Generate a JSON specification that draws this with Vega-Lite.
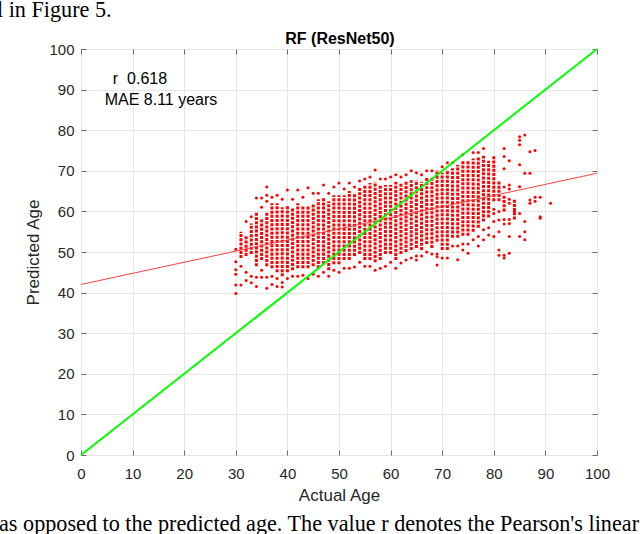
{
  "$schema": "https://vega.github.io/schema/vega-lite/v6.json",
  "width": 516,
  "height": 406,
  "autosize": "none",
  "padding": {"left": 81, "top": 49, "right": 43, "bottom": 79},
  "background": "white",
  "config": {
    "view": {"stroke": "#6b6b6b", "strokeWidth": 1},
    "axis": {"labelFont": "Liberation Sans", "titleFont": "Liberation Sans", "labelColor": "#262626", "titleColor": "#262626", "labelFontSize": 15, "titleFontSize": 17, "titleFontWeight": "normal", "tickColor": "#6b6b6b", "gridColor": "#e6e6e6", "domain": false, "labelFlush": false}
  },
  "resolve": {"axis": {"x": "independent", "y": "independent"}},
  "datasets": {
    "cores": [
      {"a": 31, "lo": 48.5, "hi": 55}, {"a": 32, "lo": 49, "hi": 54}, {"a": 33, "lo": 49.5, "hi": 57}, {"a": 34, "lo": 46.5, "hi": 60},
      {"a": 35, "lo": 48, "hi": 58}, {"a": 36, "lo": 46.5, "hi": 60}, {"a": 37, "lo": 46, "hi": 62}, {"a": 38, "lo": 45, "hi": 62},
      {"a": 39, "lo": 44, "hi": 61}, {"a": 40, "lo": 45, "hi": 61.5}, {"a": 41, "lo": 45.5, "hi": 61}, {"a": 42, "lo": 46, "hi": 62},
      {"a": 43, "lo": 46, "hi": 61.5}, {"a": 44, "lo": 46, "hi": 61.5}, {"a": 45, "lo": 46.5, "hi": 62}, {"a": 46, "lo": 46, "hi": 63},
      {"a": 47, "lo": 47, "hi": 63.5}, {"a": 48, "lo": 45.5, "hi": 62.5}, {"a": 49, "lo": 47, "hi": 64}, {"a": 50, "lo": 47, "hi": 64},
      {"a": 51, "lo": 48, "hi": 64}, {"a": 52, "lo": 48, "hi": 65}, {"a": 53, "lo": 49, "hi": 64.5}, {"a": 54, "lo": 49.5, "hi": 65.8},
      {"a": 55, "lo": 48, "hi": 66.5}, {"a": 56, "lo": 48, "hi": 67}, {"a": 57, "lo": 47.5, "hi": 67.3}, {"a": 58, "lo": 48, "hi": 66.5},
      {"a": 59, "lo": 49.5, "hi": 66.5}, {"a": 60, "lo": 49.5, "hi": 66.5}, {"a": 61, "lo": 48, "hi": 67.3}, {"a": 62, "lo": 49.5, "hi": 67},
      {"a": 63, "lo": 50, "hi": 67.3}, {"a": 64, "lo": 50.5, "hi": 67.7}, {"a": 65, "lo": 51, "hi": 67.7}, {"a": 66, "lo": 50.5, "hi": 67.3},
      {"a": 67, "lo": 52, "hi": 68.5}, {"a": 68, "lo": 51, "hi": 68.5}, {"a": 69, "lo": 52.5, "hi": 70.2}, {"a": 70, "lo": 50.5, "hi": 69.5},
      {"a": 71, "lo": 50.5, "hi": 70.2}, {"a": 72, "lo": 53.5, "hi": 70.6}, {"a": 73, "lo": 53.5, "hi": 71.5}, {"a": 74, "lo": 54, "hi": 72.5},
      {"a": 75, "lo": 54, "hi": 72.5}, {"a": 76, "lo": 55, "hi": 73}, {"a": 77, "lo": 56, "hi": 73.3}, {"a": 78, "lo": 57.5, "hi": 73.7},
      {"a": 79, "lo": 58.5, "hi": 72.5}, {"a": 80, "lo": 62.5, "hi": 73.9}, {"a": 81, "lo": 62.5, "hi": 67.5}, {"a": 82, "lo": 60, "hi": 64},
      {"a": 84, "lo": 58, "hi": 63}
    ],
    "pts": [
      {"a": 30, "p": 39.8}, {"a": 30, "p": 41.9}, {"a": 30, "p": 44.5}, {"a": 30, "p": 45.6}, {"a": 30, "p": 47.6}, {"a": 30, "p": 50.7},
      {"a": 31, "p": 41.9}, {"a": 31, "p": 46.5},
      {"a": 32, "p": 43}, {"a": 32, "p": 57.5}, {"a": 32, "p": 45},
      {"a": 33, "p": 42.4}, {"a": 33, "p": 58.7}, {"a": 33, "p": 44},
      {"a": 34, "p": 41.5}, {"a": 34, "p": 63.3}, {"a": 34, "p": 43.8},
      {"a": 35, "p": 43.8}, {"a": 35, "p": 61}, {"a": 35, "p": 63.3}, {"a": 35, "p": 45.5},
      {"a": 36, "p": 41.1}, {"a": 36, "p": 43.8}, {"a": 36, "p": 62.5}, {"a": 36, "p": 64}, {"a": 36, "p": 66},
      {"a": 37, "p": 42}, {"a": 37, "p": 44}, {"a": 37, "p": 63.5},
      {"a": 38, "p": 41.5}, {"a": 38, "p": 43.5}, {"a": 38, "p": 64},
      {"a": 39, "p": 41.4}, {"a": 39, "p": 42.5}, {"a": 39, "p": 63},
      {"a": 40, "p": 43.5}, {"a": 40, "p": 65.3},
      {"a": 41, "p": 44}, {"a": 41, "p": 63},
      {"a": 42, "p": 44}, {"a": 42, "p": 65.3},
      {"a": 43, "p": 44.3}, {"a": 43, "p": 63.5},
      {"a": 44, "p": 43.5}, {"a": 44, "p": 65.8},
      {"a": 45, "p": 44.5}, {"a": 45, "p": 64.5},
      {"a": 46, "p": 44}, {"a": 46, "p": 64.5},
      {"a": 47, "p": 45}, {"a": 47, "p": 66.5},
      {"a": 48, "p": 44}, {"a": 48, "p": 64.5},
      {"a": 49, "p": 45.5}, {"a": 49, "p": 66},
      {"a": 50, "p": 45}, {"a": 50, "p": 67},
      {"a": 51, "p": 46}, {"a": 51, "p": 65.5},
      {"a": 52, "p": 46}, {"a": 52, "p": 67},
      {"a": 53, "p": 46.3}, {"a": 53, "p": 66},
      {"a": 54, "p": 47.5}, {"a": 54, "p": 67.5},
      {"a": 55, "p": 46.5}, {"a": 55, "p": 68},
      {"a": 56, "p": 46.5}, {"a": 56, "p": 68.5},
      {"a": 57, "p": 45.5}, {"a": 57, "p": 70.2},
      {"a": 58, "p": 46}, {"a": 58, "p": 68},
      {"a": 59, "p": 46.5}, {"a": 59, "p": 68},
      {"a": 60, "p": 47.5}, {"a": 60, "p": 68.5},
      {"a": 61, "p": 46}, {"a": 61, "p": 69},
      {"a": 62, "p": 47.3}, {"a": 62, "p": 68.5},
      {"a": 63, "p": 48}, {"a": 63, "p": 69},
      {"a": 64, "p": 48.5}, {"a": 64, "p": 70},
      {"a": 65, "p": 49}, {"a": 65, "p": 48}, {"a": 65, "p": 69.5},
      {"a": 66, "p": 49}, {"a": 66, "p": 69},
      {"a": 67, "p": 50}, {"a": 67, "p": 70},
      {"a": 68, "p": 49.5}, {"a": 68, "p": 70},
      {"a": 69, "p": 49.5}, {"a": 69, "p": 48.8}, {"a": 69, "p": 46.8},
      {"a": 70, "p": 48.5}, {"a": 70, "p": 71},
      {"a": 71, "p": 48.5}, {"a": 71, "p": 72},
      {"a": 72, "p": 51.5}, {"a": 72, "p": 72},
      {"a": 73, "p": 48.1}, {"a": 73, "p": 51.5},
      {"a": 74, "p": 52}, {"a": 74, "p": 50.5}, {"a": 74, "p": 74},
      {"a": 75, "p": 49.7}, {"a": 75, "p": 52},
      {"a": 76, "p": 53}, {"a": 76, "p": 74.5},
      {"a": 77, "p": 53.8}, {"a": 77, "p": 51.5}, {"a": 77, "p": 74.5},
      {"a": 78, "p": 75.5}, {"a": 78, "p": 55.5}, {"a": 78, "p": 53},
      {"a": 79, "p": 54.2}, {"a": 79, "p": 56},
      {"a": 80, "p": 53.8}, {"a": 80, "p": 57.5}, {"a": 80, "p": 59.5}, {"a": 80, "p": 60.5},
      {"a": 81, "p": 60}, {"a": 81, "p": 57.9}, {"a": 81, "p": 50.5}, {"a": 81, "p": 49.2}, {"a": 81, "p": 55},
      {"a": 82, "p": 75.5}, {"a": 82, "p": 73.5}, {"a": 82, "p": 70.5}, {"a": 82, "p": 66}, {"a": 82, "p": 58}, {"a": 82, "p": 56.9}, {"a": 82, "p": 49.2}, {"a": 82, "p": 48.5},
      {"a": 83, "p": 72.5}, {"a": 83, "p": 66.5}, {"a": 83, "p": 65.5}, {"a": 83, "p": 63}, {"a": 83, "p": 62}, {"a": 83, "p": 58}, {"a": 83, "p": 57}, {"a": 83, "p": 53.8}, {"a": 83, "p": 49.7},
      {"a": 84, "p": 60},
      {"a": 85, "p": 78.4}, {"a": 85, "p": 77.5}, {"a": 85, "p": 76.4}, {"a": 85, "p": 71.5}, {"a": 85, "p": 66.1}, {"a": 85, "p": 59.5}, {"a": 85, "p": 53.8},
      {"a": 86, "p": 78.8}, {"a": 86, "p": 69.4}, {"a": 86, "p": 57.5}, {"a": 86, "p": 55}, {"a": 86, "p": 53},
      {"a": 87, "p": 74.7}, {"a": 87, "p": 69.4}, {"a": 87, "p": 62.8}, {"a": 87, "p": 62},
      {"a": 88, "p": 75}, {"a": 88, "p": 63.5}, {"a": 88, "p": 62.5},
      {"a": 89, "p": 63.5}, {"a": 89, "p": 58.7}, {"a": 89, "p": 58.3},
      {"a": 91, "p": 62}
    ],
    "fit": [{"a": 0, "p": 42.0}, {"a": 100, "p": 69.4}],
    "ident": [{"a": 0, "p": 0}, {"a": 100, "p": 100}],
    "ann": [{"a": 11.43, "p": 91.38, "t": "r \u00a00.618"}, {"a": 15.5, "p": 86.21, "t": "MAE 8.11 years"}],
    "heading": [{"a": 50.19, "p": 101.23, "t": "RF (ResNet50)"}],
    "page": [{"a": -16.28, "p": 107.88, "t": "l in Figure 5."}, {"a": -15.89, "p": -18.72, "t": "as opposed to the predicted age. The value r denotes the Pearson's linear correlation"}]
  },
  "layer": [
    {
      "data": {"name": "cores"},
      "mark": {"type": "rule", "color": "#ff0000", "strokeWidth": 3, "strokeDash": [3, 1.2]},
      "encoding": {
        "x": {"field": "a", "type": "quantitative", "scale": {"domain": [0, 100], "nice": false},
              "axis": {"orient": "bottom", "title": "Actual Age", "values": [0,10,20,30,40,50,60,70,80,90,100], "ticks": false, "grid": true, "labelPadding": 11, "titlePadding": 6}},
        "y": {"field": "lo", "type": "quantitative", "scale": {"domain": [0, 100], "nice": false},
              "axis": {"orient": "left", "title": "Predicted Age", "values": [0,10,20,30,40,50,60,70,80,90,100], "ticks": false, "grid": true, "labelPadding": 7, "titlePadding": 6}},
        "y2": {"field": "hi"}
      }
    },
    {
      "data": {"name": "pts"},
      "mark": {"type": "circle", "color": "#ff0000", "size": 9, "opacity": 1},
      "encoding": {
        "x": {"field": "a", "type": "quantitative", "axis": {"orient": "bottom", "values": [0,10,20,30,40,50,60,70,80,90,100], "labels": false, "grid": false, "title": null, "ticks": true, "tickSize": 5, "offset": -5}},
        "y": {"field": "p", "type": "quantitative", "axis": {"orient": "left", "values": [0,10,20,30,40,50,60,70,80,90,100], "labels": false, "grid": false, "title": null, "ticks": true, "tickSize": 5, "offset": -5}}
      }
    },
    {
      "data": {"name": "fit"},
      "mark": {"type": "line", "color": "#ff4040", "strokeWidth": 1},
      "encoding": {
        "x": {"field": "a", "type": "quantitative", "axis": {"orient": "top", "values": [0,10,20,30,40,50,60,70,80,90,100], "labels": false, "grid": false, "title": null, "ticks": true, "tickSize": 5, "offset": -5}},
        "y": {"field": "p", "type": "quantitative", "axis": {"orient": "right", "values": [0,10,20,30,40,50,60,70,80,90,100], "labels": false, "grid": false, "title": null, "ticks": true, "tickSize": 5, "offset": -5}}
      }
    },
    {
      "data": {"name": "ident"},
      "mark": {"type": "line", "color": "#00ff00", "strokeWidth": 2},
      "encoding": {
        "x": {"field": "a", "type": "quantitative", "axis": null},
        "y": {"field": "p", "type": "quantitative", "axis": null}
      }
    },
    {
      "data": {"name": "ann"},
      "mark": {"type": "text", "font": "Liberation Sans", "fontSize": 16, "color": "#000000", "align": "center", "baseline": "alphabetic"},
      "encoding": {
        "x": {"field": "a", "type": "quantitative", "axis": null},
        "y": {"field": "p", "type": "quantitative", "axis": null},
        "text": {"field": "t"}
      }
    },
    {
      "data": {"name": "heading"},
      "mark": {"type": "text", "font": "Liberation Sans", "fontSize": 16, "fontWeight": "bold", "color": "#000000", "align": "center", "baseline": "alphabetic"},
      "encoding": {
        "x": {"field": "a", "type": "quantitative", "axis": null},
        "y": {"field": "p", "type": "quantitative", "axis": null},
        "text": {"field": "t"}
      }
    },
    {
      "data": {"name": "page"},
      "mark": {"type": "text", "font": "Liberation Serif", "fontSize": 22.2, "color": "#000000", "align": "left", "baseline": "alphabetic"},
      "encoding": {
        "x": {"field": "a", "type": "quantitative", "axis": null},
        "y": {"field": "p", "type": "quantitative", "axis": null},
        "text": {"field": "t"}
      }
    }
  ]
}
